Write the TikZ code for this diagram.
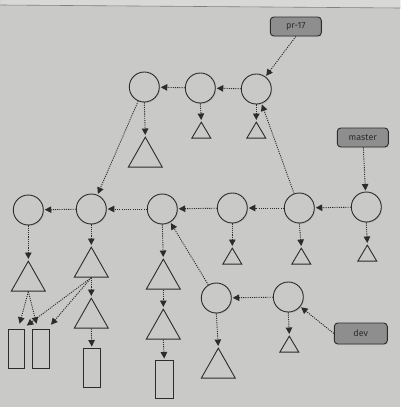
\documentclass[tikz,border=0pt]{standalone}
\usepackage{fontspec}
\setsansfont{Fira Sans}
\usetikzlibrary{arrows.meta,shapes.geometric,shadows}
\definecolor{paper}{HTML}{C9C9C8}
\definecolor{paperlight}{HTML}{D8D8D7}
\definecolor{ink}{HTML}{2C2C2C}
\definecolor{labelfill}{HTML}{8E8E8E}
\begin{document}
\begin{tikzpicture}[x=1pt,y=-1pt,
  softshadow/.style={drop shadow={shadow xshift=1pt,shadow yshift=-1pt,opacity=0.18}},
  commit/.style={circle, draw=ink, line width=0.9pt, fill=paper, minimum size=30pt, inner sep=0pt, softshadow},
  tree/.style={isosceles triangle, isosceles triangle stretches, shape border rotate=90,
    draw=ink, line width=0.9pt, fill=paper, inner sep=0pt, anchor=apex},
  bigtree/.style={tree, minimum width=34pt, minimum height=30pt},
  smalltree/.style={tree, minimum width=19pt, minimum height=16pt},
  blob/.style={rectangle, draw=ink, line width=0.9pt, fill=paper, inner sep=0pt, softshadow},
  ref/.style={rectangle, rounded corners=3.5pt, draw=ink, line width=0.9pt, fill=labelfill,
    minimum width=51pt, minimum height=19pt, inner sep=0pt,
    font=\sffamily\fontsize{9}{10}\selectfont, text=ink, softshadow},
  link/.style={draw=ink, line width=0.9pt, dash pattern=on 1.1pt off 1.1pt,
    -{Triangle[length=6.5pt,width=6.5pt]}, shorten >=1pt},
  gaplink/.style={link, shorten >=5pt}
]
% paper
\fill[paper] (0,0) rectangle (400,407);
\fill[paperlight] (0,0) -- (400,0) -- (400,8) -- (0,5) -- cycle;
\draw[gray, line width=0.6pt] (0,5) -- (400,8);
\useasboundingbox (0,0) rectangle (400,407);

% branch labels
\node[ref] (pr17) at (295.5,26.5) {pr-17};
\node[ref] (master) at (362.5,137.5) {master};
\node[ref, minimum width=53pt, minimum height=21pt] (dev) at (360.5,333.5) {dev};

% commits
\node[commit] (ct1) at (144,87) {};
\node[commit] (ct2) at (200,88) {};
\node[commit] (ct3) at (256,89) {};
\node[commit] (c1) at (28,210) {};
\node[commit] (c2) at (91,209) {};
\node[commit] (c3) at (162,209) {};
\node[commit] (c4) at (232,208) {};
\node[commit] (c5) at (299,208) {};
\node[commit] (c6) at (366,207) {};
\node[commit] (c7) at (216,298) {};
\node[commit] (c8) at (288,297) {};

% trees
\node[bigtree] (tt1) at (145,136) {};
\node[smalltree] (tt2) at (201,121) {};
\node[smalltree] (tt3) at (256,121) {};
\node[bigtree] (t1) at (28,260) {};
\node[bigtree] (t2) at (91,246) {};
\node[bigtree] (t3) at (163,258) {};
\node[smalltree] (t4) at (232,247) {};
\node[smalltree] (t5) at (301,247) {};
\node[smalltree] (t6) at (367,244) {};
\node[bigtree] (t2b) at (91,297) {};
\node[bigtree] (t3b) at (163,308) {};
\node[bigtree] (t7) at (218,347) {};
\node[smalltree] (t8) at (289,335) {};

% blobs
\node[blob, minimum width=16pt, minimum height=39pt] (r1) at (16,348.5) {};
\node[blob, minimum width=17pt, minimum height=39pt] (r2) at (40.5,348.5) {};
\node[blob, minimum width=17pt, minimum height=39pt] (r3) at (91.5,367.5) {};
\node[blob, minimum width=18pt, minimum height=38pt] (r4) at (164,379) {};

% parent links
\draw[link] (ct2) -- (ct1);
\draw[link] (ct3) -- (ct2);
\draw[link] (ct1) -- (c2);
\draw[link] (c5) -- (ct3);
\draw[link] (c2) -- (c1);
\draw[link] (c3) -- (c2);
\draw[link] (c4) -- (c3);
\draw[link] (c5) -- (c4);
\draw[link] (c6) -- (c5);
\draw[link] (c7) -- (c3);
\draw[link] (c8) -- (c7);

% branch pointers
\draw[link] (pr17.south) -- (ct3);
\draw[link] (master) -- (c6);
\draw[link] (dev.west) -- (c8);

% commit -> tree
\draw[link] (ct1.south) -- (tt1.apex);
\draw[link] (ct2.south) -- (tt2.apex);
\draw[link] (ct3.south) -- (tt3.apex);
\draw[link] (c1.south) -- (t1.apex);
\draw[link] (c2.south) -- (t2.apex);
\draw[link] (c3.south) -- (t3.apex);
\draw[link] (c4.south) -- (t4.apex);
\draw[link] (c5.south) -- (t5.apex);
\draw[link] (c6.south) -- (t6.apex);
\draw[link] (c7.south) -- (t7.apex);
\draw[link] (c8.south) -- (t8.apex);

% tree -> subtree / blob
\draw[gaplink] (t1.lower side) -- ([xshift=2pt]r1.north);
\draw[gaplink] (t1.lower side) -- ([xshift=-3pt]r2.north);
\draw[gaplink] (t2.lower side) -- ([xshift=-2pt]r1.north east);
\draw[gaplink] (t2.lower side) -- ([xshift=-2pt]r2.north east);
\draw[link] (t2.lower side) -- (t2b.apex);
\draw[link] (t2b.lower side) -- (r3.north);
\draw[link] (t3.lower side) -- (t3b.apex);
\draw[link] (t3b.lower side) -- (r4.north);
\end{tikzpicture}
\end{document}
